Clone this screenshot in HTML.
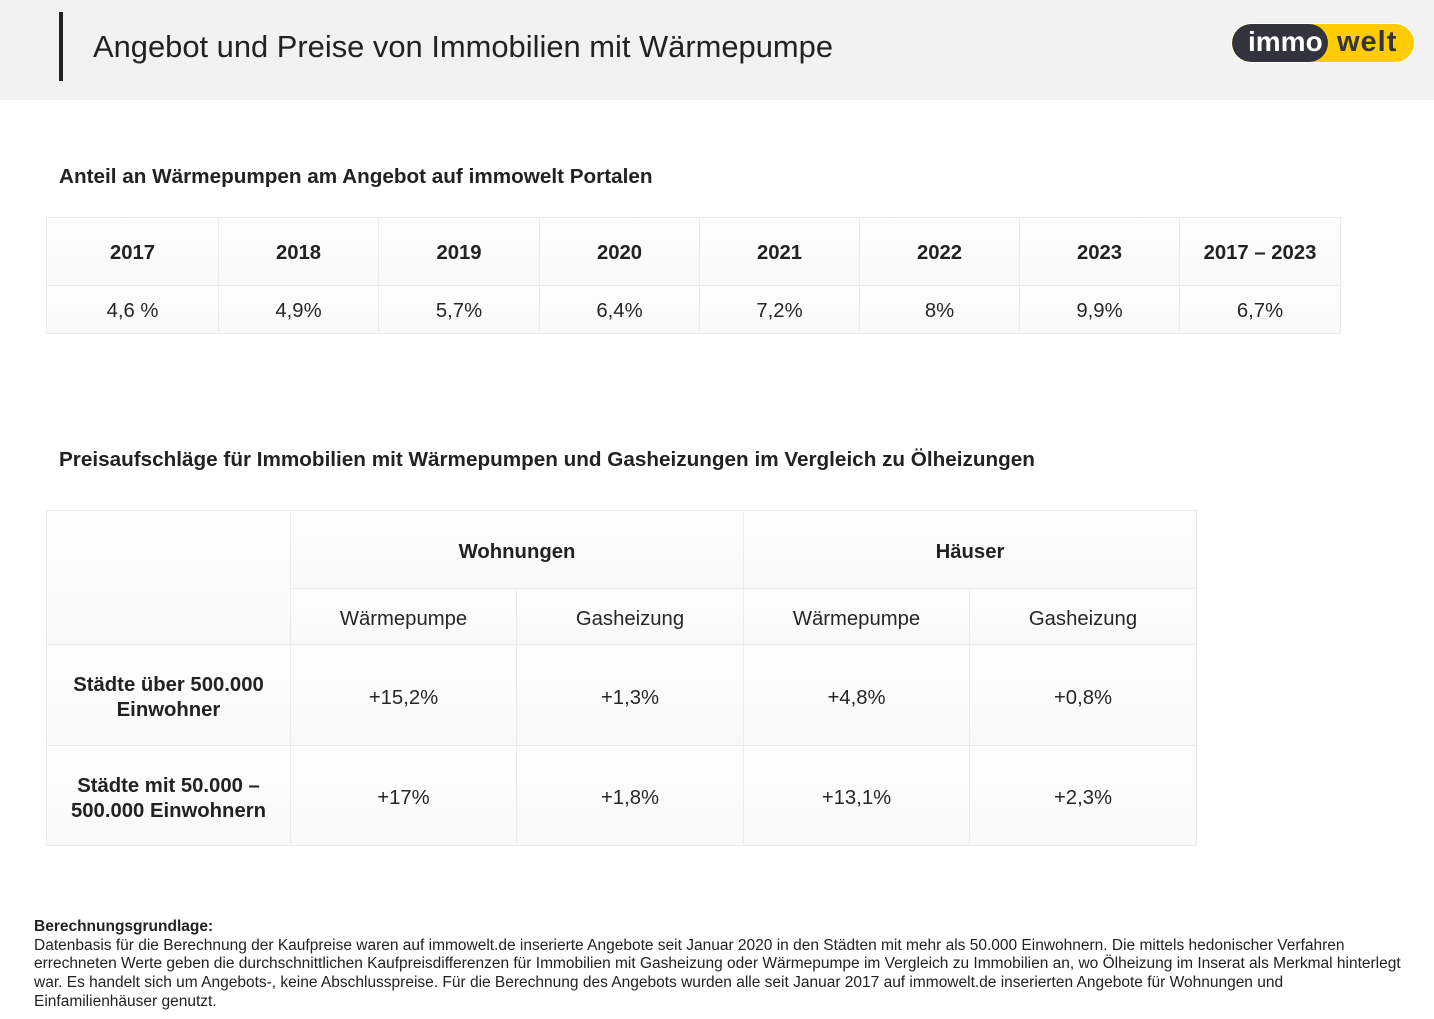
<!DOCTYPE html>
<html><head><meta charset="utf-8">
<style>
*{margin:0;padding:0;box-sizing:border-box}
html,body{width:1434px;height:1019px;background:#fff;overflow:hidden;font-family:"Liberation Sans",Arial,sans-serif;color:#262626;position:relative}
.hdr{position:absolute;left:0;top:0;width:1434px;height:100px;background:#f2f2f2}
.vbar{position:absolute;left:59px;top:12px;width:4px;height:69px;background:#222}
.title{position:absolute;left:93px;top:29px;font-size:30.9px;line-height:36px;color:#222;white-space:nowrap}
.logo{position:absolute;left:1231px;top:23px;width:184px;height:40px;border-radius:20px;background:#ffcc00;border:1px solid #fff;overflow:hidden}
.logo .dk{position:absolute;left:0;top:0;width:96px;height:38px;border-radius:19px;background:#33333d}
.logo .t1{position:absolute;left:16px;top:1px;font-size:28px;font-weight:bold;color:#fff;line-height:34px}
.logo .t2{position:absolute;left:105px;top:1px;font-size:29px;font-weight:bold;color:#33333d;line-height:34px;letter-spacing:1px}
.sec{position:absolute;left:59px;font-size:20.7px;font-weight:bold;color:#222;white-space:nowrap;line-height:24px}
.c{position:absolute;display:flex;align-items:center;justify-content:center;text-align:center;border-right:1px solid #ebebeb;border-bottom:1px solid #ebebeb;background:linear-gradient(#fdfdfd,#f9f9f9);font-size:20.3px;line-height:25px;color:#262626;padding-top:3px}
.t1c{padding-top:4px}
.t2c{padding-top:6px}
.b{font-weight:bold;color:#222}
.foot{position:absolute;left:34px;top:918px;width:1400px;font-size:15.5px;line-height:18.7px;color:#222}
.foot div{white-space:nowrap}
</style></head><body>
<div class="hdr"></div>
<div class="vbar"></div>
<div class="title">Angebot und Preise von Immobilien mit Wärmepumpe</div>
<div class="logo"><div class="dk"></div><span class="t1">immo</span><span class="t2">welt</span></div>

<div class="sec" style="top:165px">Anteil an Wärmepumpen am Angebot auf immowelt Portalen</div>

<div class="c b t1c" style="left:46px;top:217px;width:173px;height:69px;border-left:1px solid #ebebeb;border-top:1px solid #ebebeb">2017</div>
<div class="c b t1c" style="left:219px;top:217px;width:160px;height:69px;border-top:1px solid #ebebeb">2018</div>
<div class="c b t1c" style="left:379px;top:217px;width:161px;height:69px;border-top:1px solid #ebebeb">2019</div>
<div class="c b t1c" style="left:540px;top:217px;width:160px;height:69px;border-top:1px solid #ebebeb">2020</div>
<div class="c b t1c" style="left:700px;top:217px;width:160px;height:69px;border-top:1px solid #ebebeb">2021</div>
<div class="c b t1c" style="left:860px;top:217px;width:160px;height:69px;border-top:1px solid #ebebeb">2022</div>
<div class="c b t1c" style="left:1020px;top:217px;width:160px;height:69px;border-top:1px solid #ebebeb">2023</div>
<div class="c b t1c" style="left:1180px;top:217px;width:161px;height:69px;border-top:1px solid #ebebeb">2017 – 2023</div>
<div class="c t1c" style="left:46px;top:286px;width:173px;height:48px;border-left:1px solid #ebebeb">4,6 %</div>
<div class="c t1c" style="left:219px;top:286px;width:160px;height:48px">4,9%</div>
<div class="c t1c" style="left:379px;top:286px;width:161px;height:48px">5,7%</div>
<div class="c t1c" style="left:540px;top:286px;width:160px;height:48px">6,4%</div>
<div class="c t1c" style="left:700px;top:286px;width:160px;height:48px">7,2%</div>
<div class="c t1c" style="left:860px;top:286px;width:160px;height:48px">8%</div>
<div class="c t1c" style="left:1020px;top:286px;width:160px;height:48px">9,9%</div>
<div class="c t1c" style="left:1180px;top:286px;width:161px;height:48px">6,7%</div>

<div class="sec" style="top:448px">Preisaufschläge für Immobilien mit Wärmepumpen und Gasheizungen im Vergleich zu Ölheizungen</div>

<div class="c" style="left:46px;top:510px;width:245px;height:135px;border-left:1px solid #ebebeb;border-top:1px solid #ebebeb"></div>
<div class="c b t2c" style="left:291px;top:510px;width:453px;height:79px;border-top:1px solid #ebebeb">Wohnungen</div>
<div class="c b t2c" style="left:744px;top:510px;width:453px;height:79px;border-top:1px solid #ebebeb">Häuser</div>
<div class="c t2c" style="left:291px;top:589px;width:226px;height:56px">Wärmepumpe</div>
<div class="c t2c" style="left:517px;top:589px;width:227px;height:56px">Gasheizung</div>
<div class="c t2c" style="left:744px;top:589px;width:226px;height:56px">Wärmepumpe</div>
<div class="c t2c" style="left:970px;top:589px;width:227px;height:56px">Gasheizung</div>

<div class="c b t2c" style="left:46px;top:645px;width:245px;height:101px;border-left:1px solid #ebebeb">Städte über 500.000<br>Einwohner</div>
<div class="c t2c" style="left:291px;top:645px;width:226px;height:101px">+15,2%</div>
<div class="c t2c" style="left:517px;top:645px;width:227px;height:101px">+1,3%</div>
<div class="c t2c" style="left:744px;top:645px;width:226px;height:101px">+4,8%</div>
<div class="c t2c" style="left:970px;top:645px;width:227px;height:101px">+0,8%</div>

<div class="c b t2c" style="left:46px;top:746px;width:245px;height:100px;border-left:1px solid #ebebeb">Städte mit 50.000 –<br>500.000 Einwohnern</div>
<div class="c t2c" style="left:291px;top:746px;width:226px;height:100px">+17%</div>
<div class="c t2c" style="left:517px;top:746px;width:227px;height:100px">+1,8%</div>
<div class="c t2c" style="left:744px;top:746px;width:226px;height:100px">+13,1%</div>
<div class="c t2c" style="left:970px;top:746px;width:227px;height:100px">+2,3%</div>

<div class="foot">
<div style="font-weight:bold">Berechnungsgrundlage:</div>
<div>Datenbasis für die Berechnung der Kaufpreise waren auf immowelt.de inserierte Angebote seit Januar 2020 in den Städten mit mehr als 50.000 Einwohnern. Die mittels hedonischer Verfahren</div>
<div>errechneten Werte geben die durchschnittlichen Kaufpreisdifferenzen für Immobilien mit Gasheizung oder Wärmepumpe im Vergleich zu Immobilien an, wo Ölheizung im Inserat als Merkmal hinterlegt</div>
<div>war. Es handelt sich um Angebots-, keine Abschlusspreise. Für die Berechnung des Angebots wurden alle seit Januar 2017 auf immowelt.de inserierten Angebote für Wohnungen und</div>
<div>Einfamilienhäuser genutzt.</div>
</div>
</body></html>
